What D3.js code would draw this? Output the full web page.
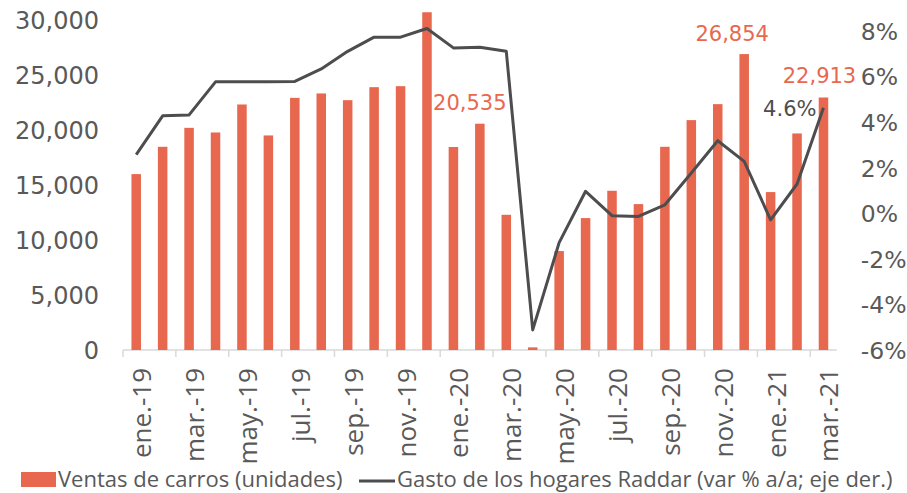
<!DOCTYPE html>
<html lang="es">
  <head>
    <meta charset="utf-8">
    <title>Ventas de carros y gasto de los hogares</title>
    <script src="https://d3js.org/d3.v7.min.js"></script>
    <style>
      body {
        margin: 0;
        background: #fff;
        font-family: "Open Sans", sans-serif;
      }
      .num {
        font-family: "DejaVu Sans", sans-serif;
      }
    </style>
  </head>
  <body>
    <svg id="chart" width="907" height="493"></svg>

    <script>

    // data ************************************

    let months = ["ene.-19", "feb.-19", "mar.-19", "abr.-19", "may.-19", "jun.-19",
      "jul.-19", "ago.-19", "sep.-19", "oct.-19", "nov.-19", "dic.-19",
      "ene.-20", "feb.-20", "mar.-20", "abr.-20", "may.-20", "jun.-20",
      "jul.-20", "ago.-20", "sep.-20", "oct.-20", "nov.-20", "dic.-20",
      "ene.-21", "feb.-21", "mar.-21"]

    // Ventas de carros (unidades)
    let ventas = [15960, 18440, 20160, 19740, 22280, 19470,
      22880, 23280, 22670, 23850, 23940, 30650,
      18420, 20535, 12270, 240, 8980, 11970,
      14450, 13240, 18440, 20860, 22310, 26854,
      14330, 19650, 22913]

    // Gasto de los hogares Raddar (var % a/a)
    let gasto = [2.57, 4.27, 4.31, 5.76, 5.76, 5.76,
      5.78, 6.33, 7.10, 7.72, 7.72, 8.10,
      7.25, 7.28, 7.10, -5.12, -1.29, 0.96,
      -0.11, -0.14, 0.37, 1.76, 3.18, 2.27,
      -0.29, 1.28, 4.62]

    let leftTicks = [0, 5000, 10000, 15000, 20000, 25000, 30000]
    let rightTicks = [-6, -4, -2, 0, 2, 4, 6, 8]

    // bar labels shown (index in months)
    let barLabels = [13, 23, 26]
    let lineLabels = [26]

    // settings ********************************

    let red = "#E8684F"
    let gray = "#4D4D4F"
    let textGray = "#595959"

    let plotLeft = 123, plotRight = 836.7, plotTop = 19.4, plotBottom = 350

    let svg = d3.select("#chart")

    let x = d3.scaleBand()
      .domain(months)
      .range([plotLeft, plotRight])
      .paddingInner(0.64)
      .paddingOuter(0.32)

    let xc = d => x(d) + x.bandwidth() / 2
    let step = x.step()

    let yL = d3.scaleLinear().domain([0, 30000]).range([plotBottom, plotTop])
    let yR = d3.scaleLinear().domain([-6, 8.5]).range([plotBottom, plotTop])

    let fmt = d3.format(",")

    // axes ************************************

    // left axis
    let axL = svg.append("g")
      .attr("transform", "translate(" + (plotLeft - 24) + ",0)")
      .call(d3.axisLeft(yL).tickValues(leftTicks).tickSize(0).tickPadding(0).tickFormat(fmt))
    axL.select(".domain").remove()
    axL.selectAll("text")
      .attr("class", "num")
      .style("font-size", "24px")
      .attr("fill", textGray)
      .attr("dy", "0.36em")

    // right axis
    let axR = svg.append("g")
      .attr("transform", "translate(" + (plotRight + 24) + ",0)")
      .call(d3.axisRight(yR).tickValues(rightTicks).tickSize(0).tickPadding(0).tickFormat(d => d + "%"))
    axR.select(".domain").remove()
    axR.selectAll("text")
      .attr("class", "num")
      .style("font-size", "23.5px")
      .attr("fill", textGray)
      .attr("dy", "0.36em")

    // bottom axis line
    svg.append("line")
      .attr("x1", plotLeft).attr("x2", plotRight)
      .attr("y1", plotBottom).attr("y2", plotBottom)
      .attr("stroke", "#D9D9D9")
      .attr("stroke-width", 1.5)

    // ticks every second month at the band boundaries
    let tickMonths = months.filter((d, i) => i % 2 == 0)

    svg.append("g")
      .selectAll("line")
      .data(tickMonths)
      .join("line")
        .attr("x1", d => x(d) - step * x.paddingInner() / 2)
        .attr("x2", d => x(d) - step * x.paddingInner() / 2)
        .attr("y1", plotBottom)
        .attr("y2", plotBottom + 7)
        .attr("stroke", "#D9D9D9")
        .attr("stroke-width", 1.5)

    svg.append("g")
      .selectAll("text")
      .data(tickMonths)
      .join("text")
        .attr("transform", d => "translate(" + (xc(d) + 15) + "," + (plotBottom + 18) + ") rotate(-90)")
        .attr("text-anchor", "end")
        .style("font-size", "26px")
        .attr("fill", textGray)
        .text(d => d)

    // bars ************************************

    svg.append("g")
      .selectAll("rect")
      .data(months)
      .join("rect")
        .attr("x", d => x(d))
        .attr("width", x.bandwidth())
        .attr("y", (d, i) => yL(ventas[i]))
        .attr("height", (d, i) => plotBottom - yL(ventas[i]))
        .attr("fill", red)

    // line ************************************

    let line = d3.line()
      .x((d, i) => xc(months[i]))
      .y(d => yR(d))

    svg.append("path")
      .datum(gasto)
      .attr("d", line)
      .attr("fill", "none")
      .attr("stroke", gray)
      .attr("stroke-width", 3)
      .attr("stroke-linejoin", "round")

    // data labels *****************************

    svg.append("g")
      .selectAll("text")
      .data(barLabels)
      .join("text")
        .attr("class", "num")
        .attr("x", (d, i) => xc(months[d]) + [-10, -12, -4][i])
        .attr("y", (d, i) => yL(ventas[d]) - [14, 13, 14][i])
        .attr("text-anchor", "middle")
        .style("font-size", "21px")
        .attr("fill", red)
        .text(d => fmt(ventas[d]))

    svg.append("g")
      .selectAll("text")
      .data(lineLabels)
      .join("text")
        .attr("class", "num")
        .attr("x", d => xc(months[d]) - 7)
        .attr("y", d => yR(gasto[d]) + 8)
        .attr("text-anchor", "end")
        .style("font-size", "21px")
        .attr("fill", gray)
        .text(d => gasto[d].toFixed(1) + "%")

    // legend **********************************

    let legend = svg.append("g")

    legend.append("rect")
      .attr("x", 21).attr("y", 472)
      .attr("width", 35).attr("height", 15)
      .attr("fill", red)

    legend.append("text")
      .attr("x", 58).attr("y", 487)
      .style("font-size", "22px")
      .attr("fill", textGray)
      .text("Ventas de carros (unidades)")

    legend.append("line")
      .attr("x1", 359).attr("x2", 395)
      .attr("y1", 481).attr("y2", 481)
      .attr("stroke", gray)
      .attr("stroke-width", 3)

    legend.append("text")
      .attr("x", 397).attr("y", 487)
      .style("font-size", "22px")
      .attr("fill", textGray)
      .text("Gasto de los hogares Raddar (var % a/a; eje der.)")

    </script>
  </body>
</html>
